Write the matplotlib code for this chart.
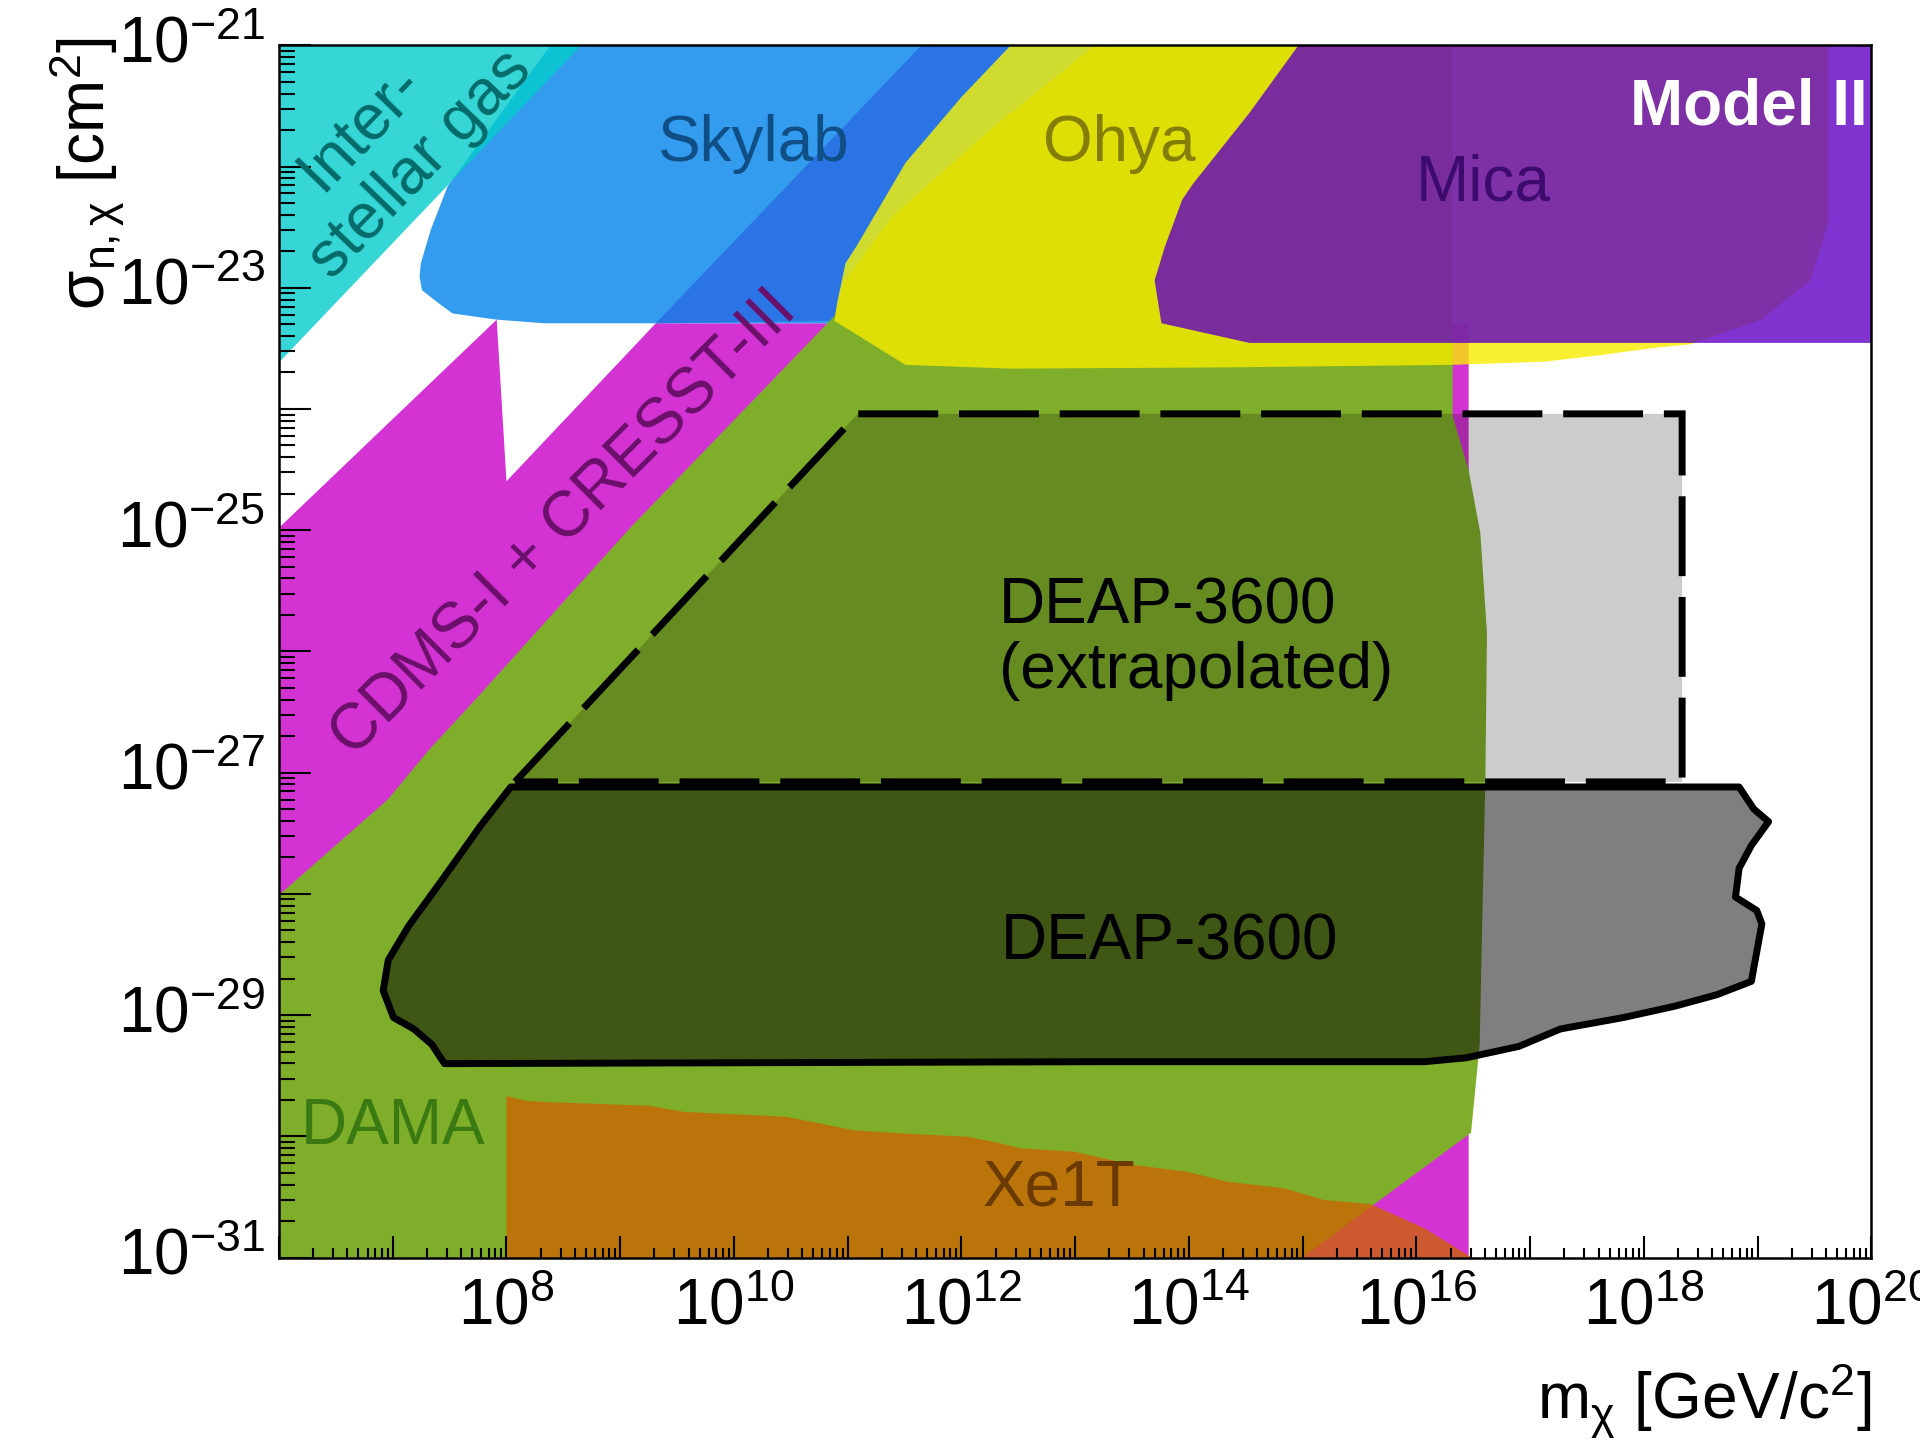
import matplotlib
matplotlib.use("Agg")
import matplotlib.pyplot as plt
from matplotlib.patches import Polygon
from matplotlib.ticker import FixedLocator, FixedFormatter, NullFormatter
import numpy as np

plt.rcParams['font.family'] = ['Liberation Sans', 'DejaVu Sans']
plt.rcParams['mathtext.fontset'] = 'custom'
plt.rcParams['mathtext.rm'] = 'Liberation Sans'
plt.rcParams['mathtext.it'] = 'Liberation Sans:italic'
plt.rcParams['mathtext.bf'] = 'Liberation Sans:bold'

# ---------------- data (log10 m [GeV/c^2], log10 sigma [cm^2]) ----------------
cdms_lm = [6.0, 7.914, 8.0, 9.313, 16.459, 16.459, 6.0]
cdms_ls = [-24.980, -23.263, -24.596, -23.293, -23.293, -31.0, -31.0]

skylab_lm = [8.387, 14.317, 14.317, 8.334, 7.914, 7.526, 7.408, 7.257, 7.236, 7.247, 7.333, 7.483]
skylab_ls = [-21.0, -21.0, -23.293, -23.293, -23.263, -23.212, -23.131, -23.020, -22.909, -22.798, -22.525, -22.162]

skylab2_lm = [11.648, 12.434, 12.003, 11.508, 11.078, 10.981, 10.906, 10.884, 9.313]
skylab2_ls = [-21.0, -21.0, -21.424, -21.970, -22.657, -22.798, -23.131, -23.273, -23.293]

dama_lm = [6.0, 6.956, 7.322, 7.720, 9.098, 10.884, 10.960, 11.390, 12.251, 13.176,
           16.319, 16.319, 16.459, 16.562, 16.620, 16.606, 16.577, 16.556, 16.480, 14.995, 6.0]
dama_ls = [-28.010, -27.222, -26.808, -26.404, -24.970, -23.232, -22.960, -22.414, -21.697, -21.0,
           -21.0, -24.061, -24.505, -25.026, -25.848, -27.061, -28.303, -29.242, -29.970, -31.0, -31.0]

xe1t_lm = [8.0, 8.0, 8.172, 8.355, 9.248, 9.560, 10.454, 10.734, 11.046, 11.465, 12.051, 12.345,
           12.520, 12.988, 13.516, 13.984, 14.337, 14.834, 15.186, 15.596, 16.071, 16.470, 16.48]
xe1t_ls = [-31.0, -29.667, -29.707, -29.717, -29.747, -29.798, -29.838, -29.889, -29.949, -29.975,
           -30.003, -30.058, -30.099, -30.126, -30.236, -30.292, -30.374, -30.428, -30.525, -30.558,
           -30.758, -30.990, -31.0]

ohya_lm = [12.434, 12.003, 11.508, 11.078, 10.981, 10.906, 10.884, 11.508, 12.434, 14.317, 16.319,
           17.126, 17.617, 18.057, 18.418, 19.031, 19.462, 19.623, 19.623]
ohya_ls = [-21.0, -21.424, -21.970, -22.657, -22.798, -23.131, -23.273, -23.636, -23.667, -23.657, -23.636,
           -23.610, -23.556, -23.500, -23.465, -23.263, -22.939, -22.465, -21.0]

mica_lm = [14.963, 14.533, 14.037, 13.941, 13.790, 13.698, 13.758, 14.533, 20.0, 20.0]
mica_ls = [-21.0, -21.556, -22.141, -22.273, -22.657, -22.939, -23.293, -23.455, -23.455, -21.0]

gas_lm = [6.0, 8.656, 6.0]
gas_ls = [-21.0, -21.0, -23.616]

deap_extrap_lm = [8.075, 11.089, 18.336, 18.336]
deap_extrap_ls = [-27.076, -24.040, -24.040, -27.076]

deap_lm = [8.038, 7.769, 7.410, 7.141, 6.961, 6.916, 7.007, 7.185, 7.344, 7.455, 13.220, 16.071,
           16.437, 16.900, 17.266, 17.360, 17.819, 18.277, 18.643, 18.945, 18.966, 19.037, 18.992,
           18.805, 18.837, 18.945, 19.096, 18.966, 18.837]
deap_ls = [-27.118, -27.442, -27.916, -28.263, -28.545, -28.798, -29.020, -29.114, -29.242, -29.400,
           -29.384, -29.384, -29.352, -29.258, -29.114, -29.098, -29.020, -28.925, -28.831, -28.721,
           -28.611, -28.247, -28.137, -28.026, -27.788, -27.600, -27.404, -27.300, -27.118]

x_exponents = list(range(6, 21))
x_labelled = [8, 10, 12, 14, 16, 18, 20]
y_exponents = list(range(-31, -20))
y_labelled = [-31, -29, -27, -25, -23, -21]


def pts(lm, ls):
    return np.column_stack([10.0 ** np.asarray(lm), 10.0 ** np.asarray(ls)])


fig = plt.figure(figsize=(19.2, 14.44), dpi=100)
ax = fig.add_axes([0.14531, 0.12909, 0.82938, 0.83954])
ax.set_xscale('log')
ax.set_yscale('log')
ax.set_xlim(1e6, 1e20)
ax.set_ylim(1e-31, 1e-21)

def add(lm, ls, z, **kw):
    p = Polygon(pts(lm, ls), closed=True, zorder=z, **kw)
    ax.add_patch(p)
    return p

add(cdms_lm, cdms_ls, 1.00, facecolor='#d433d4', edgecolor='none')
add(skylab_lm, skylab_ls, 1.05, facecolor='#349cef', edgecolor='none')
add(skylab2_lm, skylab2_ls, 1.10, facecolor='#2a74e6', edgecolor='none')
add(dama_lm, dama_ls, 1.15, facecolor='#7fae2a', edgecolor='none')
add(xe1t_lm, xe1t_ls, 1.20, facecolor='#cc6402', alpha=0.78, edgecolor='none')
add(ohya_lm, ohya_ls, 1.25, facecolor='#f8ec00', alpha=0.8, edgecolor='none')
add(mica_lm, mica_ls, 1.30, facecolor='#6000c4', alpha=0.8, edgecolor='none')
add(gas_lm, gas_ls, 1.35, facecolor='#04cccc', alpha=0.8, edgecolor='none')

# DEAP extrapolated
add(deap_extrap_lm, deap_extrap_ls, 1.40, facecolor=(0, 0, 0, 0.2), edgecolor='none')
add(deap_extrap_lm, deap_extrap_ls, 2.2, facecolor='none', edgecolor='black',
    linewidth=5.0, linestyle=(0, (11.5, 3.0)))
# DEAP solid
add(deap_lm, deap_ls, 1.45, facecolor=(0, 0, 0, 0.5), edgecolor='none')
add(deap_lm, deap_ls, 2.3, facecolor='none', edgecolor='black', linewidth=5.0, joinstyle='round')

FS = 46
tk = dict(fontsize=FS, zorder=3)
def T(lm, ls, s, **kw):
    d = dict(tk)
    d.update(kw)
    ax.text(10.0 ** lm, 10.0 ** ls, s, **d)

T(6.719, -21.677, 'Inter-', color='#056a6a', ha='center', va='center', rotation=46, rotation_mode='anchor')
T(7.247, -21.980, 'stellar gas', color='#056a6a', ha='center', va='center', rotation=46, rotation_mode='anchor')
T(10.163, -21.818, 'Skylab', color='#0f4f86', ha='center', va='center')
T(13.392, -21.818, 'Ohya', color='#847e08', ha='center', va='center')
T(16.588, -22.141, 'Mica', color='#3d0a6e', ha='center', va='center')
T(19.967, -21.515, 'Model II', color='white', ha='right', va='center', fontweight='bold')
T(8.506, -24.949, 'CDMS-I + CRESST-III', color='#6a106a', ha='center', va='center', rotation=45, rotation_mode='anchor')
T(6.192, -29.919, 'DAMA', color='#3b7a12', ha='left', va='center')
T(12.854, -30.429, 'Xe1T', color='#6b3a00', ha='center', va='center')
T(12.326, -25.768, 'DEAP-3600', color='black', ha='left', va='baseline')
T(12.326, -26.303, '(extrapolated)', color='black', ha='left', va='baseline')
T(13.833, -28.545, 'DEAP-3600', color='black', ha='center', va='baseline')

# ticks
ax.xaxis.set_major_locator(FixedLocator([10.0 ** e for e in x_exponents]))
ax.xaxis.set_major_formatter(FixedFormatter(
    [r'$\mathregular{10^{%d}}$' % e if e in x_labelled else '' for e in x_exponents]))
ax.xaxis.set_minor_locator(FixedLocator([m * 10.0 ** e for e in x_exponents[:-1] for m in range(2, 10)]))
ax.xaxis.set_minor_formatter(NullFormatter())
ax.yaxis.set_major_locator(FixedLocator([10.0 ** e for e in y_exponents]))
ax.yaxis.set_major_formatter(FixedFormatter(
    [r'$\mathregular{10^{%d}}$' % e if e in y_labelled else '' for e in y_exponents]))
ax.yaxis.set_minor_locator(FixedLocator([m * 10.0 ** e for e in y_exponents[:-1] for m in range(2, 10)]))
ax.yaxis.set_minor_formatter(NullFormatter())

ax.tick_params(axis='both', which='both', direction='in', top=False, right=False, width=1.5, labelsize=FS)
ax.tick_params(axis='x', which='major', length=15.5, pad=14)
ax.tick_params(axis='x', which='minor', length=7.5)
ax.tick_params(axis='y', which='major', length=23, pad=10)
ax.tick_params(axis='y', which='minor', length=11.5)
for lab in ax.get_yticklabels():
    lab.set_verticalalignment('center')
for s in ax.spines.values():
    s.set_linewidth(1.8)
    s.set_zorder(4)

fig.text(0.0458, 0.974, r'$\mathregular{\sigma_{n,\chi}}$ [cm$^{\mathregular{2}}$]', rotation=90,
         ha='center', va='top', fontsize=FS)
fig.text(0.9745, 0.0166, r'$\mathregular{m_{\chi}}$ [GeV/c$^{\mathregular{2}}$]', ha='right', va='baseline',
         fontsize=FS)

fig.savefig('out.png', dpi=100)
